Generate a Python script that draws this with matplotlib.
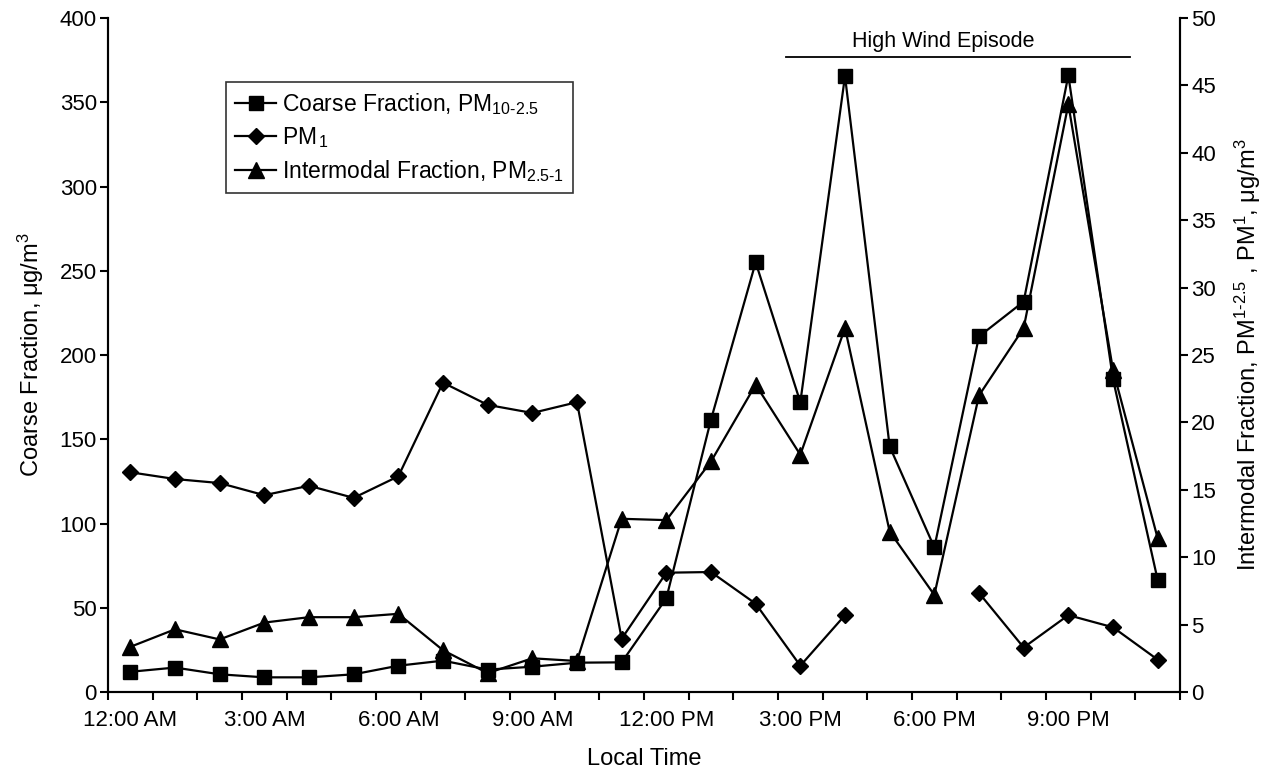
import numpy as np
import matplotlib
matplotlib.use("Agg")
import matplotlib.pyplot as plt

plt.rcParams["font.family"] = ["Liberation Sans", "DejaVu Sans"]
plt.rcParams["mathtext.fontset"] = "custom"
plt.rcParams["mathtext.rm"] = "Liberation Sans"
plt.rcParams["mathtext.it"] = "Liberation Sans:italic"
plt.rcParams["mathtext.bf"] = "Liberation Sans:bold"

# Hourly categories, 12:00 AM .. 11:00 PM
hours = np.arange(24)
tick_labels = ["12:00 AM", "3:00 AM", "6:00 AM", "9:00 AM",
               "12:00 PM", "3:00 PM", "6:00 PM", "9:00 PM"]

# Coarse fraction PM10-2.5 (left axis, ug/m3)
coarse = [12, 14.5, 10.5, 8.7, 8.7, 10.5, 15.6, 18.6, 13.3, 15, 17.4, 17.6,
          55.6, 161.7, 255, 172, 365.5, 145.7, 85.8, 211, 231.7, 366, 185.7, 66.5]
# PM1 (right axis, ug/m3); two hours missing
pm1 = [16.3, 15.8, 15.5, 14.6, 15.3, 14.4, 16.0, 22.95, 21.3, 20.7, 21.5, 3.95,
       8.85, 8.9, 6.55, 1.95, 5.7, np.nan, np.nan, 7.35, 3.3, 5.7, 4.8, 2.4]
# Intermodal fraction PM2.5-1 (right axis, ug/m3)
intermodal = [3.35, 4.65, 3.9, 5.15, 5.55, 5.55, 5.8, 3.1, 1.4, 2.5, 2.3, 12.85,
              12.75, 17.1, 22.8, 17.6, 27.0, 11.9, 7.2, 22.0, 27.0, 43.6, 23.9, 11.4]

fig = plt.figure(figsize=(12.66, 7.73), dpi=100)
ax = fig.add_axes([108 / 1266, 1 - 692 / 773, (1180 - 108) / 1266, (692 - 18) / 773])
ax2 = ax.twinx()

lw = 1.6
h1, = ax.plot(hours, coarse, color="black", lw=lw, marker="s", ms=10.5,
              label="Coarse Fraction, PM$_{10\\text{-}2.5}$")
h2, = ax2.plot(hours, pm1, color="black", lw=lw, marker="D", ms=8.5,
               label="PM$_{\\,1}$")
h3, = ax2.plot(hours, intermodal, color="black", lw=lw, marker="^", ms=11.5,
               label="Intermodal Fraction, PM$_{2.5\\text{-}1}$")

ax.set_xlim(-0.5, 23.5)
ax.set_ylim(0, 400)
ax2.set_ylim(0, 50)
ax.set_yticks(np.arange(0, 401, 50))
ax2.set_yticks(np.arange(0, 51, 5))

# Tick marks between categories, labels every third hour
ax.set_xticks(np.arange(-0.5, 24, 1))
ax.set_xticklabels([])
ax.set_xticks(hours[::3], minor=True)
ax.set_xticklabels(tick_labels, minor=True)
ax.tick_params(axis="x", which="minor", length=0, pad=13, labelsize=16)
ax.tick_params(axis="x", which="major", direction="out", length=6, width=1.5)
ax.tick_params(axis="y", direction="out", length=6, width=1.5, labelsize=16, pad=2)
ax2.tick_params(axis="y", direction="out", length=6, width=1.5, labelsize=16, pad=2)

for a in (ax, ax2):
    a.spines["top"].set_visible(False)
    for s in ("left", "right", "bottom"):
        a.spines[s].set_linewidth(1.5)

ax.set_xlabel("Local Time", fontsize=17, labelpad=12)
ax.set_ylabel("Coarse Fraction, μg/m$^{3}$", fontsize=17, labelpad=10)
ax2.set_ylabel("Intermodal Fraction, PM$^{1\\text{-}2.5}$ , PM$^{1}$, μg/m$^{3}$",
               fontsize=17, labelpad=12)

# High wind episode marker
ax.plot([14.69, 22.38], [377, 377], color="black", lw=1.3, clip_on=False)
ax.text(18.2, 386, "High Wind Episode", ha="center", va="center", fontsize=15.5)

leg = ax2.legend(handles=[h1, h2, h3], loc="upper left",
                 bbox_to_anchor=((226 - 108) / 1072, 1 - (82 - 18) / 674),
                 frameon=True, fancybox=False, edgecolor="black", fontsize=16.5,
                 handlelength=1.8, handletextpad=0.25, borderpad=0.4,
                 labelspacing=0.35, borderaxespad=0)
leg.get_frame().set_linewidth(1.2)

fig.savefig("out.png", dpi=100)
